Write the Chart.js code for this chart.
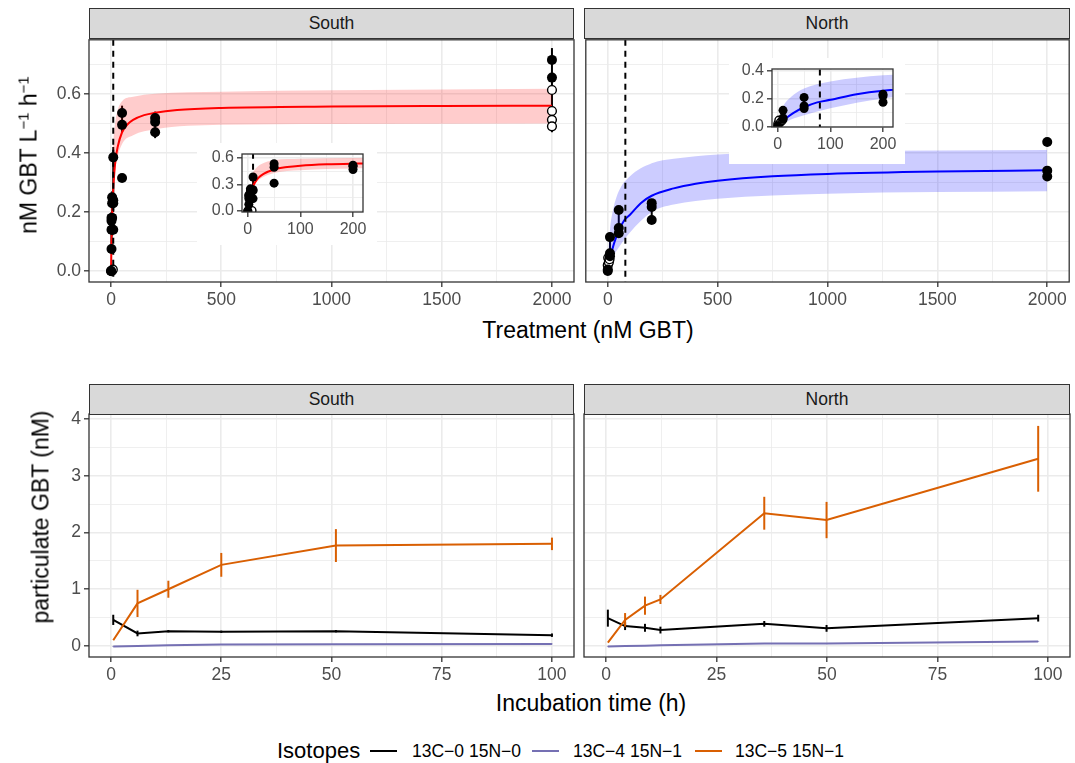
<!DOCTYPE html>
<html>
<head>
<meta charset="utf-8">
<script src="https://cdn.jsdelivr.net/npm/chart.js@4.4.1/dist/chart.umd.min.js"></script>
<style>
  body { margin: 0; background: #fff; font-family: "Liberation Sans", Arial, sans-serif; }
  #wrap { position: relative; width: 1075px; height: 763px; overflow: hidden; }
  canvas { position: absolute; }
  .strip { position: absolute; box-sizing: border-box; background: #D9D9D9; border: 1.3px solid #333;
           font-size: 17.5px; color: #1A1A1A; text-align: center; line-height: 28px; }
  .t { position: absolute; white-space: nowrap; color: #000; transform: translate(-50%, -50%); }
  .rot { transform: translate(-50%, -50%) rotate(-90deg); }
  .key { position: absolute; height: 2px; width: 27px; }
  sup { font-size: 65%; vertical-align: 0.55em; line-height: 0; }
</style>
</head>
<body>
<div id="wrap">
  <canvas id="topS" width="580" height="276" style="left:0;top:34px"></canvas>
  <canvas id="topN" width="495" height="276" style="left:580px;top:34px"></canvas>
  <canvas id="botS" width="580" height="276" style="left:0;top:410px"></canvas>
  <canvas id="botN" width="495" height="276" style="left:580px;top:410px"></canvas>
  <canvas id="insS" width="180" height="102" style="left:197px;top:143px;background:#fff"></canvas>
  <canvas id="insN" width="176" height="106" style="left:729px;top:58px;background:#fff"></canvas>

  <div class="strip" style="left:89px;top:8px;width:485px;height:31px">South</div>
  <div class="strip" style="left:584px;top:8px;width:486px;height:31px">North</div>
  <div class="strip" style="left:89px;top:384px;width:485px;height:31px">South</div>
  <div class="strip" style="left:584px;top:384px;width:486px;height:31px">North</div>

  <div class="t rot" style="left:29px;top:155px;font-size:23px">nM GBT L<sup>−1</sup> h<sup>−1</sup></div>
  <div class="t" style="left:588px;top:330px;font-size:23px">Treatment (nM GBT)</div>
  <div class="t rot" style="left:41px;top:517px;font-size:23px">particulate GBT (nM)</div>
  <div class="t" style="left:591px;top:703px;font-size:23px">Incubation time (h)</div>

  <div class="t" style="left:277px;top:751px;font-size:22px;transform:translate(0,-50%)">Isotopes</div>
  <div class="key" style="left:370px;top:750px;background:#000000"></div>
  <div class="t" style="left:412px;top:751px;font-size:17.5px;transform:translate(0,-50%)">13C−0 15N−0</div>
  <div class="key" style="left:532px;top:750px;background:#7570B3"></div>
  <div class="t" style="left:573px;top:751px;font-size:17.5px;transform:translate(0,-50%)">13C−4 15N−1</div>
  <div class="key" style="left:695px;top:750px;background:#D95F02"></div>
  <div class="t" style="left:735px;top:751px;font-size:17.5px;transform:translate(0,-50%)">13C−5 15N−1</div>
</div>

<script>
// ---- top row: uptake vs treatment ----
var kmSouth = 10;
var kmNorth = 80;

var fitS_x = [0, 1, 2, 4, 6, 8, 10, 15, 20, 30, 50, 75, 100, 150, 200, 300, 500, 1000, 1500, 2000];
var fitS_y = [0, 0.05, 0.094, 0.16, 0.21, 0.25, 0.28, 0.335, 0.375, 0.42, 0.47, 0.497, 0.512, 0.528, 0.536, 0.545, 0.552, 0.557, 0.559, 0.56];
var ribS_x = [8, 15, 25, 50, 100, 200, 500, 1000, 2000];
var ribS_lo = [0.28, 0.32, 0.37, 0.43, 0.46, 0.48, 0.495, 0.498, 0.5];
var ribS_hi = [0.42, 0.48, 0.53, 0.575, 0.59, 0.6, 0.607, 0.612, 0.617];

var fitN_x = [0, 5, 10, 20, 30, 50, 75, 100, 150, 200, 300, 400, 500, 750, 1000, 1500, 2000];
var fitN_y = [0, 0.021, 0.039, 0.071, 0.097, 0.137, 0.172, 0.19, 0.23, 0.255, 0.28, 0.296, 0.306, 0.321, 0.329, 0.337, 0.341];
var ribN_x = [2, 10, 25, 50, 100, 200, 300, 500, 1000, 2000];
var ribN_lo = [0, 0.02, 0.05, 0.08, 0.13, 0.2, 0.225, 0.245, 0.262, 0.27];
var ribN_hi = [0.05, 0.14, 0.21, 0.27, 0.32, 0.365, 0.38, 0.395, 0.405, 0.41];

var dotS_x = [0, 0, 2, 2, 2, 2, 5, 5, 5, 5, 10, 10, 10, 10, 50, 50, 50, 200, 200, 200, 2000, 2000];
var dotS_y = [0, 0, 0.075, 0.14, 0.18, 0.17, 0.25, 0.23, 0.14, 0.18, 0.385, 0.24, 0.23, 0.14, 0.535, 0.495, 0.315, 0.518, 0.505, 0.47, 0.715, 0.655];
var openS_x = [3, 8, 2000, 2000, 2000, 2000];
var openS_y = [0, 0.005, 0.613, 0.542, 0.512, 0.49];
var errS_x = [2, 5, 10, 50, 200, 2000];
var errS_lo = [0.06, 0.12, 0.2, 0.47, 0.45, 0.47];
var errS_hi = [0.2, 0.27, 0.42, 0.56, 0.54, 0.755];

var dotN_x = [0, 0, 10, 10, 10, 50, 50, 50, 200, 200, 200, 2000, 2000, 2000];
var dotN_y = [0, 0.005, 0.115, 0.06, 0.05, 0.207, 0.146, 0.128, 0.23, 0.217, 0.173, 0.437, 0.34, 0.32];
var openN_x = [0, 2, 5, 8];
var openN_y = [0.02, 0.045, 0.03, 0.04];
var errN_x = [10, 50, 200];
var errN_lo = [0.04, 0.12, 0.17];
var errN_hi = [0.13, 0.22, 0.24];

// ---- bottom row: particulate GBT vs incubation time ----
var timeS = [0.5, 6, 13, 25, 51, 100];
var s_c0 = [0.46, 0.22, 0.26, 0.25, 0.26, 0.19];
var s_c0_err = [0.09, 0.05, 0.02, 0.02, 0.02, 0.03];
var s_c4 = [-0.01, 0.0, 0.01, 0.025, 0.03, 0.035];
var s_c4_err = [0.005, 0.005, 0.005, 0.005, 0.005, 0.005];
var s_c5 = [0.1, 0.75, 1.0, 1.43, 1.77, 1.8];
var s_c5_err = [0, 0.24, 0.15, 0.21, 0.29, 0.11];

var timeN = [0.4, 4.3, 8.8, 12.3, 35.8, 49.9, 97.8];
var n_c0 = [0.49, 0.35, 0.32, 0.28, 0.39, 0.31, 0.49];
var n_c0_err = [0.15, 0.07, 0.07, 0.06, 0.05, 0.06, 0.06];
var n_c4 = [-0.01, 0.0, 0.005, 0.01, 0.045, 0.045, 0.08];
var n_c4_err = [0.005, 0.005, 0.005, 0.005, 0.005, 0.005, 0.005];
var n_c5 = [0.06, 0.46, 0.71, 0.82, 2.34, 2.22, 3.3];
var n_c5_err = [0, 0.12, 0.16, 0.08, 0.29, 0.32, 0.58];

var FONT = '"Liberation Sans", Arial, sans-serif';
Chart.defaults.font.family = FONT;
Chart.defaults.animation = false;

function zip(xs, ys) {
  return xs.map(function (x, i) { return { x: x, y: ys[i] }; });
}

function scale(pos, min, max, majors, minors, fmt, size, fs, labels) {
  var all = majors.concat(minors).sort(function (a, b) { return a - b; });
  var isMajor = function (c) { return c.tick && majors.indexOf(c.tick.value) >= 0; };
  return {
    type: 'linear', position: pos, min: min, max: max,
    afterBuildTicks: function (ax) { ax.ticks = all.map(function (v) { return { value: v }; }); },
    afterFit: function (ax) {
      if (pos === 'left') ax.width = size; else ax.height = size;
      ax.paddingLeft = ax.paddingRight = ax.paddingTop = ax.paddingBottom = 0;
    },
    ticks: {
      display: labels, autoSkip: false, maxRotation: 0, minRotation: 0, padding: 3,
      color: '#4D4D4D', font: { size: fs },
      callback: function (v) { return majors.indexOf(v) >= 0 ? fmt(v) : ''; }
    },
    grid: {
      color: '#EBEBEB',
      lineWidth: function (c) { return isMajor(c) ? 1.6 : 0.8; },
      drawTicks: labels, tickLength: 5, tickWidth: 1.3,
      tickColor: function (c) { return isMajor(c) ? '#333333' : 'rgba(0,0,0,0)'; }
    },
    border: { display: false }
  };
}

function errBars(sets, below) {
  function draw(chart) {
    var ctx = chart.ctx, xs = chart.scales.x, ys = chart.scales.y;
    ctx.save();
    sets.forEach(function (s) {
      ctx.strokeStyle = s.color;
      ctx.lineWidth = s.width;
      s.x.forEach(function (x, i) {
        var px = xs.getPixelForValue(x);
        ctx.beginPath();
        ctx.moveTo(px, ys.getPixelForValue(s.lo[i]));
        ctx.lineTo(px, ys.getPixelForValue(s.hi[i]));
        ctx.stroke();
      });
    });
    ctx.restore();
  }
  return {
    id: 'errbars',
    beforeDatasetsDraw: function (chart) { if (below) draw(chart); },
    afterDatasetsDraw: function (chart) { if (!below) draw(chart); }
  };
}

var frame = {
  id: 'frame',
  afterDraw: function (chart) {
    var a = chart.chartArea, ctx = chart.ctx;
    ctx.save();
    ctx.strokeStyle = '#333333';
    ctx.lineWidth = 1.3;
    ctx.strokeRect(a.left, a.top, a.right - a.left, a.bottom - a.top);
    ctx.restore();
  }
};

function kinetics(fx, fy, rx, rlo, rhi, dx, dy, ox, oy, km, col, fill, r) {
  var smooth = 'monotone';
  return [
    { data: zip(dx, dy), pointRadius: r, pointBackgroundColor: '#000', pointBorderColor: '#000', pointBorderWidth: 0, order: 0 },
    { data: zip(ox, oy), pointRadius: r - 0.6, pointBackgroundColor: '#fff', pointBorderColor: '#000', pointBorderWidth: 1.4, order: 1 },
    { data: [{ x: km, y: -10 }, { x: km, y: 10 }], showLine: true, borderColor: '#000', borderWidth: 2, borderDash: [6, 5], pointRadius: 0, order: 2 },
    { data: zip(fx, fy), showLine: true, borderColor: col, borderWidth: 2, pointRadius: 0, cubicInterpolationMode: smooth, order: 3 },
    { data: zip(rx, rhi), showLine: true, borderWidth: 0, pointRadius: 0, fill: '+1', backgroundColor: fill, cubicInterpolationMode: smooth, order: 4 },
    { data: zip(rx, rlo), showLine: true, borderWidth: 0, pointRadius: 0, fill: false, cubicInterpolationMode: smooth, order: 5 }
  ];
}

function make(id, datasets, sx, sy, pad, plugins) {
  new Chart(document.getElementById(id).getContext('2d'), {
    type: 'scatter',
    data: { datasets: datasets },
    options: {
      responsive: false, devicePixelRatio: 1, animation: false,
      layout: { padding: pad },
      plugins: { legend: { display: false }, tooltip: { enabled: false } },
      scales: { x: sx, y: sy }
    },
    plugins: plugins.concat([frame])
  });
}

var f1 = function (v) { return v.toFixed(1); };
var f0 = function (v) { return String(v); };

// top panels
var topY = function (lab) { return scale('left', -0.037, 0.783, [0, 0.2, 0.4, 0.6], [0.1, 0.3, 0.5, 0.7], f1, lab ? 89 : 4, 17.5, lab); };
var topX = function () { return scale('bottom', -100, 2100, [0, 500, 1000, 1500, 2000], [250, 750, 1250, 1750], f0, 28, 17.5, true); };

make('topS',
  kinetics(fitS_x, fitS_y, ribS_x, ribS_lo, ribS_hi, dotS_x, dotS_y, openS_x, openS_y, kmSouth, '#FF0000', 'rgba(255,0,0,0.2)', 5),
  topX(), topY(true), { left: 0, right: 6, top: 4, bottom: 0 },
  [errBars([{ x: errS_x, lo: errS_lo, hi: errS_hi, color: '#000', width: 2 }], true)]);

make('topN',
  kinetics(fitN_x, fitN_y, ribN_x, ribN_lo, ribN_hi, dotN_x, dotN_y, openN_x, openN_y, kmNorth, '#0000FF', 'rgba(0,0,255,0.2)', 5),
  topX(), topY(false), { left: 0, right: 5, top: 4, bottom: 0 },
  [errBars([{ x: errN_x, lo: errN_lo, hi: errN_hi, color: '#000', width: 2 }], true)]);

// insets
var insX = function (h) { return scale('bottom', -11, 219, [0, 100, 200], [50, 150], f0, h, 16, true); };

make('insS',
  kinetics(fitS_x, fitS_y, ribS_x, ribS_lo, ribS_hi, dotS_x, dotS_y, openS_x, openS_y, kmSouth, '#FF0000', 'rgba(255,0,0,0.2)', 4.5),
  insX(33), scale('left', -0.012, 0.645, [0, 0.3, 0.6], [0.15, 0.45], f1, 45, 16, true),
  { left: 0, right: 14, top: 11, bottom: 0 },
  [errBars([{ x: errS_x, lo: errS_lo, hi: errS_hi, color: '#000', width: 2 }], true)]);

make('insN',
  kinetics(fitN_x, fitN_y, ribN_x, ribN_lo, ribN_hi, dotN_x, dotN_y, openN_x, openN_y, kmNorth, '#0000FF', 'rgba(0,0,255,0.2)', 4.5),
  insX(37), scale('left', -0.004, 0.41, [0, 0.2, 0.4], [0.1, 0.3], f1, 43, 16, true),
  { left: 0, right: 12, top: 11, bottom: 0 },
  [errBars([{ x: errN_x, lo: errN_lo, hi: errN_hi, color: '#000', width: 2 }], true)]);

// bottom panels
function lo(m, e) { return m.map(function (v, i) { return v - e[i]; }); }
function hi(m, e) { return m.map(function (v, i) { return v + e[i]; }); }

function timeSets(t, c0, c4, c5) {
  return [
    { data: zip(t, c5), showLine: true, borderColor: '#D95F02', borderWidth: 2, pointRadius: 0, order: 0 },
    { data: zip(t, c4), showLine: true, borderColor: '#7570B3', borderWidth: 2, pointRadius: 0, order: 1 },
    { data: zip(t, c0), showLine: true, borderColor: '#000000', borderWidth: 2, pointRadius: 0, order: 2 }
  ];
}

var botY = function (lab) { return scale('left', -0.195, 4.09, [0, 1, 2, 3, 4], [0.5, 1.5, 2.5, 3.5], f0, lab ? 89 : 4, 17.5, lab); };
var botX = function () { return scale('bottom', -5, 105, [0, 25, 50, 75, 100], [12.5, 37.5, 62.5, 87.5], f0, 29, 17.5, true); };

make('botS', timeSets(timeS, s_c0, s_c4, s_c5), botX(), botY(true), { left: 0, right: 6, top: 4, bottom: 0 },
  [errBars([
    { x: timeS, lo: lo(s_c0, s_c0_err), hi: hi(s_c0, s_c0_err), color: '#000000', width: 2 },
    { x: timeS, lo: lo(s_c4, s_c4_err), hi: hi(s_c4, s_c4_err), color: '#7570B3', width: 2 },
    { x: timeS, lo: lo(s_c5, s_c5_err), hi: hi(s_c5, s_c5_err), color: '#D95F02', width: 2 }
  ], false)]);

make('botN', timeSets(timeN, n_c0, n_c4, n_c5), botX(), botY(false), { left: 0, right: 5, top: 4, bottom: 0 },
  [errBars([
    { x: timeN, lo: lo(n_c0, n_c0_err), hi: hi(n_c0, n_c0_err), color: '#000000', width: 2 },
    { x: timeN, lo: lo(n_c4, n_c4_err), hi: hi(n_c4, n_c4_err), color: '#7570B3', width: 2 },
    { x: timeN, lo: lo(n_c5, n_c5_err), hi: hi(n_c5, n_c5_err), color: '#D95F02', width: 2 }
  ], false)]);
</script>
</body>
</html>
